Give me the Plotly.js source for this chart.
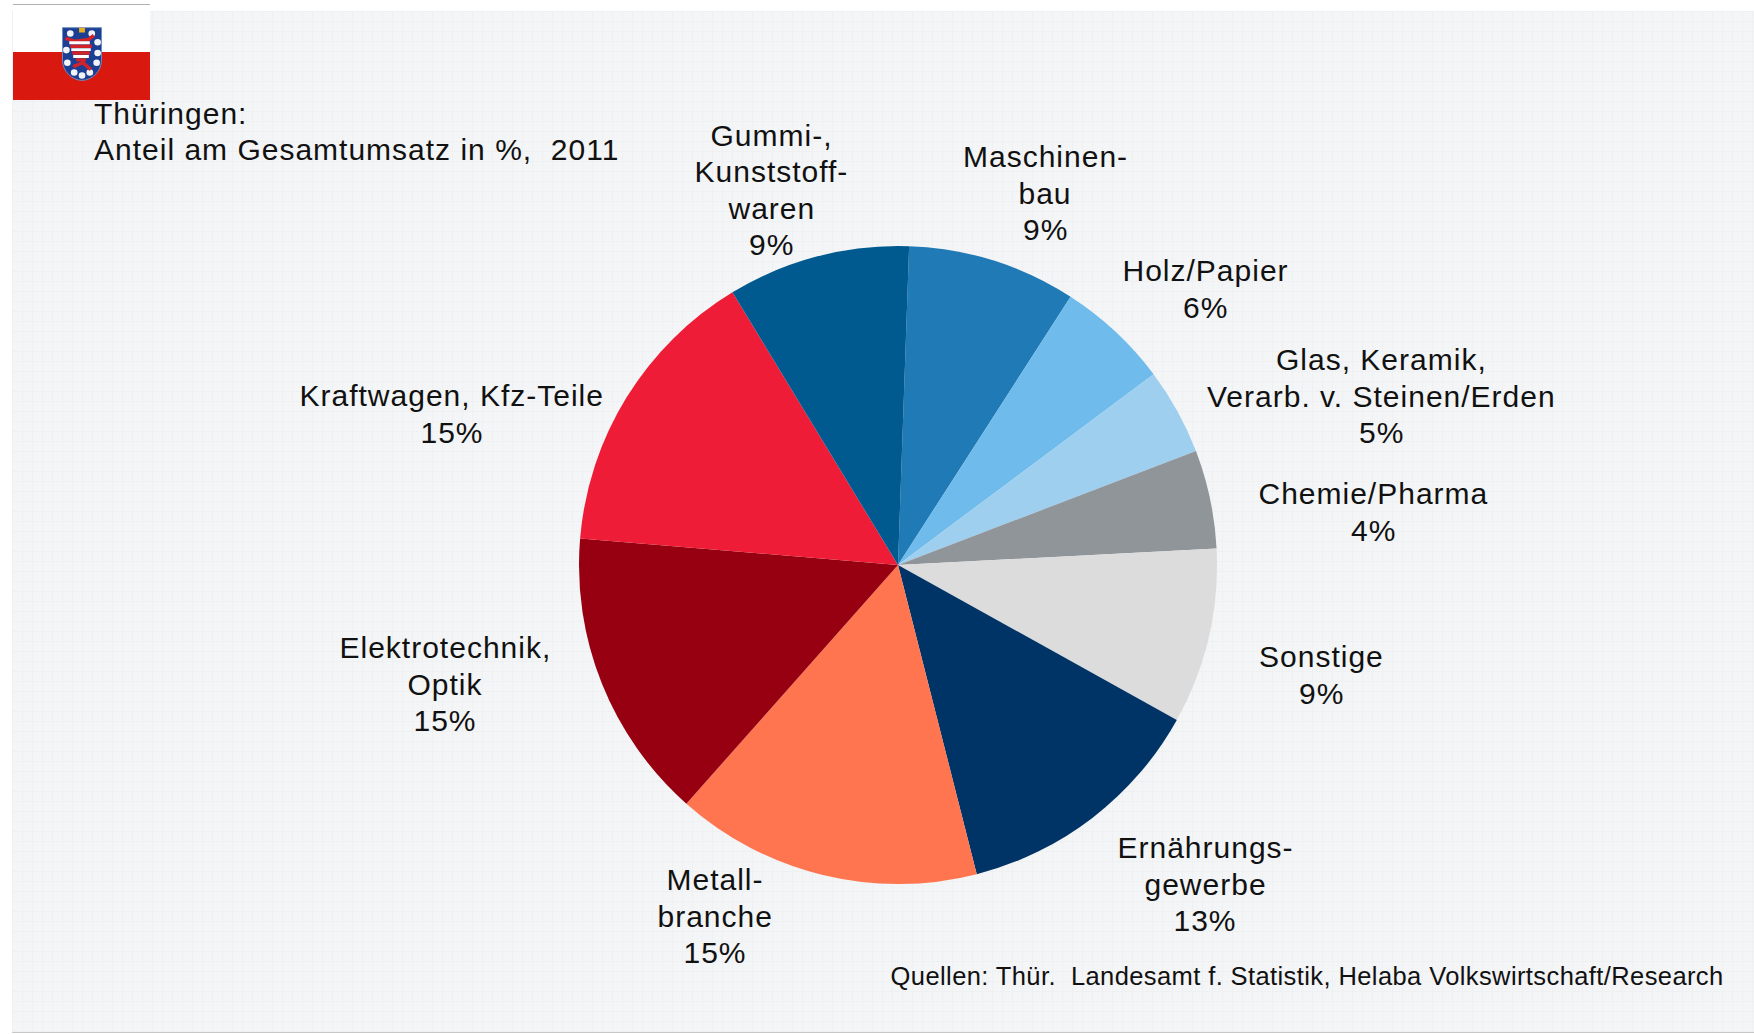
<!DOCTYPE html>
<html><head><meta charset="utf-8">
<script src="https://cdn.plot.ly/plotly-3.0.1.min.js"></script>
<style>
html,body{margin:0;padding:0;background:#fff;width:1754px;height:1034px;overflow:hidden}
#panel{position:absolute;left:12px;top:11px;width:1742px;height:1021px;background-color:#f4f5f7;
background-image:linear-gradient(#eef0f2 1px,transparent 1px),linear-gradient(90deg,#eef0f2 1px,transparent 1px);background-size:10px 10px;border-bottom:1px solid #c8c8c8}
#chart{position:absolute;left:0;top:0;width:1754px;height:1034px}
#chart .annotation-text{letter-spacing:1px}
#chart .annotation:last-of-type .annotation-text{letter-spacing:.4px}
</style></head><body>
<div id="panel"></div><div id="chart"></div>
<script>
const categories=['Maschinenbau','Holz/Papier','Glas, Keramik, Verarb. v. Steinen/Erden','Chemie/Pharma','Sonstige','Ernährungsgewerbe','Metallbranche','Elektrotechnik, Optik','Kraftwagen, Kfz-Teile','Gummi-, Kunststoffwaren'];
const sliceValues=[8.55,5.7,4.4,5.0,8.9,12.97,15.53,14.8,15.0,9.25];
const labelLines=[['Maschinen-','bau'],['Holz/Papier'],['Glas, Keramik,','Verarb. v. Steinen/Erden'],['Chemie/Pharma'],['Sonstige'],['Ernährungs-','gewerbe'],['Metall-','branche'],['Elektrotechnik,','Optik'],['Kraftwagen, Kfz-Teile'],['Gummi-,','Kunststoff-','waren']];
const printedPercent=[9,6,5,4,9,13,15,15,15,9];
const sliceColors=['#1f7ab5','#6fbbeb','#9fcfef','#8f9599','#dcdcdc','#003366','#ff7550','#960010','#ee1c36','#005a8f'];
const titleLines=['Thüringen:','Anteil am Gesamtumsatz in %,  2011'];
const sourceText='Quellen: Thür.  Landesamt f. Statistik, Helaba Volkswirtschaft/Research';
const W=1754,H=1034;
const px=x=>x/W, py=y=>1-y/H;
const labelAnchors=[[1045,193],[1205,289],[1381,396],[1373,512],[1321,675],[1205,884],[715,916],[445,684],[452,414],[771,190]];
const lineGap=36.6;
const font={family:'"Liberation Sans",Arial,sans-serif',size:30,color:'#111'};
const annotations=[];
const textLine=(t,x,y,anchor,f)=>annotations.push({xref:'paper',yref:'paper',x:px(x),y:py(y),xanchor:anchor,yanchor:'middle',align:anchor,showarrow:false,font:f,text:t});
categories.forEach((c,i)=>{
  const lines=labelLines[i].concat(printedPercent[i]+'%');
  lines.forEach((t,k)=>textLine(t,labelAnchors[i][0],labelAnchors[i][1]+(k-(lines.length-1)/2)*lineGap,'center',font));
});
titleLines.forEach((t,k)=>textLine(t,92,113.5+k*36,'left',font));
textLine(sourceText,1726,975.5,'right',{...font,size:25.5});
const rect=(x0,y0,x1,y1,fill)=>({type:'rect',layer:'below',xref:'paper',yref:'paper',x0:px(x0),y0:py(y0),x1:px(x1),y1:py(y1),fillcolor:fill,line:{width:0}});
const arms=`<svg xmlns="http://www.w3.org/2000/svg" viewBox="0 0 42 56" width="42" height="56"><path d="M1 1H41V34C41 46 31 55 21 55C11 55 1 46 1 34Z" fill="#1c3f94" stroke="#6f8fc0" stroke-width="1"/><g fill="#f2f4fa"><circle cx="9" cy="7" r="3.4"/><circle cx="31" cy="7" r="3.4"/><circle cx="37" cy="16" r="3.4"/><circle cx="5" cy="24" r="3.4"/><circle cx="37" cy="27" r="3.4"/><circle cx="6" cy="37" r="3.4"/><circle cx="36" cy="37" r="3.4"/><circle cx="13" cy="47" r="3.4"/><circle cx="21" cy="50" r="3.4"/><circle cx="29" cy="47" r="3.4"/></g><path d="M18 1h6v5h-6z" fill="#e8b020"/><path d="M4 12L14 15L28 13L33 9M9 20H31M11 27H29M15 34H25M12 41L22 37L30 44" fill="none" stroke="#d2232a" stroke-width="3.5"/><path d="M8 16.5H29M10 23.5H30M12 30.5H28" stroke="#fff" stroke-width="3"/></svg>`;
const layout={width:W,height:H,margin:{l:0,r:0,t:0,b:0},paper_bgcolor:'rgba(0,0,0,0)',showlegend:false,annotations,
shapes:[rect(13,4,150,52,'#ffffff'),rect(13,52,150,100,'#d9190f'),rect(13,4,150,5,'#b0b0b0')],
images:[{source:'data:image/svg+xml;utf8,'+encodeURIComponent(arms),xref:'paper',yref:'paper',x:px(61.5),y:py(26),sizex:px(41),sizey:56/H,xanchor:'left',yanchor:'top',layer:'above'}]};
Plotly.newPlot('chart',[{type:'pie',labels:categories,values:sliceValues,sort:false,direction:'clockwise',rotation:2,textinfo:'none',hoverinfo:'label+percent',marker:{colors:sliceColors,line:{width:0}},domain:{x:[px(579),px(1217)],y:[py(884),py(246)]}}],layout,{displayModeBar:false,responsive:false});
</script></body></html>
